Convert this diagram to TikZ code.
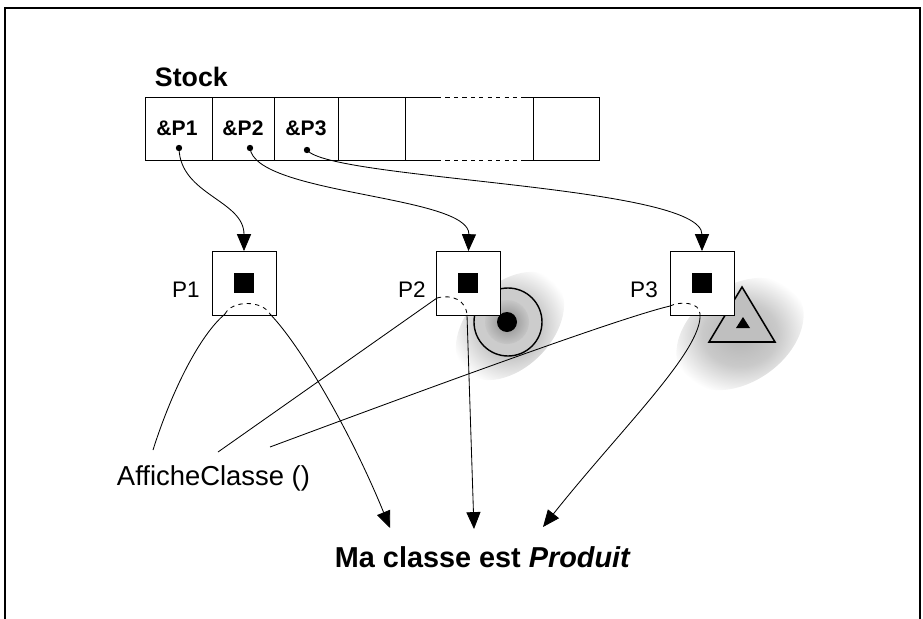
\documentclass[tikz,border=0pt]{standalone}
\usepackage{fontspec}
\setmainfont{Liberation Sans}
\usetikzlibrary{arrows.meta, positioning, calc}
\newcommand{\refsize}{\fontsize{15}{18}\selectfont}
\newcommand{\stocksize}{\fontsize{19}{22}\selectfont}
\newcommand{\labsize}{\fontsize{16}{19}\selectfont}
\newcommand{\methsize}{\fontsize{19.5}{23}\selectfont}
\newcommand{\ressize}{\fontsize{20.5}{25}\selectfont}
\pgfdeclareradialshading{blob}{\pgfpoint{0bp}{0bp}}{color(0bp)=(gray!60); color(13bp)=(gray!42); color(25bp)=(white); color(50bp)=(white)}
\pgfdeclareradialshading{core}{\pgfpoint{0bp}{0bp}}{color(0bp)=(gray!90); color(12bp)=(gray!70); color(25bp)=(gray!45); color(50bp)=(gray!45)}
\tikzset{
  objbox/.style={draw, line width=0.6pt, fill=white, minimum size=1.6cm, inner sep=0pt},
  blackbox/.style={fill=black, minimum size=0.5cm, inner sep=0pt},
  pdot/.style={circle, fill=black, minimum size=0.16cm, inner sep=0pt},
  ptr/.style={-{Triangle[length=12pt,width=10pt]}, line width=0.6pt},
  link/.style={line width=0.6pt},
  seam/.style={line width=0.6pt, dash pattern=on 3pt off 3pt},
}

\begin{document}
\begin{tikzpicture}[x=0.025cm, y=-0.025cm]
\useasboundingbox (0,0) rectangle (923,619);
% frame
\draw[line width=1pt] (5,619) -- (5,8) -- (920,8) -- (920,619);

% the Stock array
\node[anchor=base west, font=\stocksize\bfseries] (stock) at (150,86) {Stock};
\draw[link] (437,97) -- (145,97) -- (145,160) -- (437,160);
\draw[link] (522,97) -- (599,97) -- (599,160) -- (522,160);
\draw[seam] (437,97) -- (522,97);
\draw[seam] (437,160) -- (522,160);
\foreach \x in {212,274,338,405,533}
  \draw[link] (\x,97) -- (\x,160);
\node[anchor=base, font=\refsize\bfseries] (ref1) at (177,135) {\&P1};
\node[anchor=base, font=\refsize\bfseries] (ref2) at (243,135) {\&P2};
\node[anchor=base, font=\refsize\bfseries] (ref3) at (306,135) {\&P3};
\node[pdot] (d1) at (179,148) {};
\node[pdot] (d2) at (250,148) {};
\node[pdot] (d3) at (307,150) {};

% halos behind P2 and P3
\shade[shading=blob, rotate around={45:(510,326)}] (510,326) ellipse [x radius=64, y radius=42];
\shade[shading=blob, rotate around={35:(740,334)}] (740,334) ellipse [x radius=70, y radius=48];
\draw[line width=1pt, fill=gray!40] (508,322) circle (34);
\shade[shading=core] (507,322) circle (22);
\fill (507,322) circle (10);
\draw[line width=1.1pt, fill=gray!50] (742,287) -- (775,342) -- (709,342) -- cycle;
\fill (743,317) -- (750,328) -- (736,328) -- cycle;

% the objects
\node[objbox] (obj1) at (244,283.5) {};
\node[objbox] (obj2) at (468.5,283.5) {};
\node[objbox] (obj3) at (702,283.5) {};
\node[blackbox] (sq1) at (244,283) {};
\node[blackbox] (sq2) at (468,283) {};
\node[blackbox] (sq3) at (702,283) {};
\node[anchor=base, font=\labsize] (lab1) at (186,297) {P1};
\node[anchor=base, font=\labsize] (lab2) at (412,297) {P2};
\node[anchor=base, font=\labsize] (lab3) at (644,297) {P3};

% pointers
\draw[ptr] (d1.center) .. controls (180,195) and (244,200) .. (obj1.north);
\draw[ptr] (d2.center) .. controls (255,195) and (470,195) .. (obj2.north);
\draw[ptr] (d3.center) .. controls (330,180) and (702,185) .. (obj3.north);

% method entry points
\coordinate (k1a) at (225,314);
\coordinate (k1b) at (270,314);
\coordinate (k2a) at (437,298);
\coordinate (k2b) at (467,315);
\coordinate (k3a) at (670,306);
\coordinate (k3b) at (700,314);
\draw[seam] (k1a) .. controls (232,300) and (262,300) .. (k1b);
\draw[seam] (k2a) .. controls (452,294) and (466,300) .. (k2b);
\draw[seam] (k3a) .. controls (680,301) and (700,302) .. (k3b);

% AfficheClasse and the result
\node[anchor=base west, font=\methsize] (meth) at (112,485) {AfficheClasse ()};
\node[anchor=base west, font=\ressize\bfseries] (res) at (330,567) {Ma classe est \textit{Produit}};
\coordinate (m1) at (153,450);
\coordinate (m2) at (218,452);
\coordinate (m3) at (270,447);
\coordinate (t1) at (390,528);
\coordinate (t2) at (474,529);
\coordinate (t3) at (543,527);
\draw[link] (k1a) .. controls (200,335) and (172,390) .. (m1);
\draw[link] (k2a) -- (m2);
\draw[link] (k3a) .. controls (620,318) and (450,380) .. (m3);
\draw[ptr] (k1b) .. controls (300,345) and (350,430) .. (t1);
\draw[ptr] (k2b) -- (t2);
\draw[ptr] (k3b) .. controls (703,350) and (620,430) .. (t3);
\end{tikzpicture}
\end{document}
